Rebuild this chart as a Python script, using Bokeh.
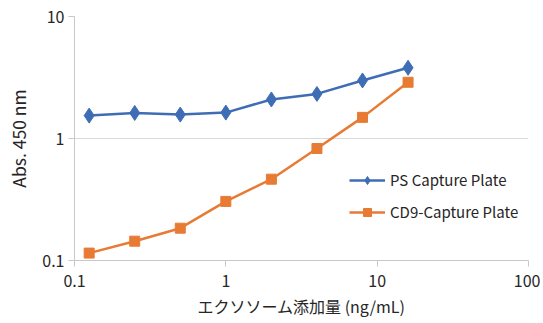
from bokeh.plotting import figure
from bokeh.models import FixedTicker, CustomJSTickFormatter, Legend, LegendItem, Range1d
from bokeh.embed import file_html
from bokeh.resources import INLINE

conc = [0.125, 0.25, 0.5, 1, 2, 4, 8, 16]
ps_capture = [1.54, 1.62, 1.57, 1.63, 2.09, 2.32, 2.99, 3.8]
cd9_capture = [0.115, 0.144, 0.184, 0.305, 0.464, 0.828, 1.49, 2.89]
x_ticks = [0.1, 1, 10, 100]
y_ticks = [0.1, 1, 10]
series_names = ["PS Capture Plate", "CD9-Capture Plate"]

FONT = "Noto Sans CJK JP"
TXT = "#262626"

p = figure(frame_width=454, frame_height=244, x_axis_type="log", y_axis_type="log",
           x_range=Range1d(0.1, 100), y_range=Range1d(0.1, 10),
           output_backend="svg", toolbar_location=None,
           min_border_left=74, min_border_right=12, min_border_top=16, min_border_bottom=60)
p.outline_line_color = None
p.background_fill_color = "white"

fmt = CustomJSTickFormatter(code="return tick.toString();")
for ax, ticks in ((p.xaxis[0], x_ticks), (p.yaxis[0], y_ticks)):
    ax.ticker = FixedTicker(ticks=ticks, minor_ticks=[])
    ax.formatter = fmt
    ax.axis_line_color = "#C8C8C8"
    ax.major_tick_line_color = "#C8C8C8"
    ax.major_tick_out = 6
    ax.major_tick_in = 0
    ax.minor_tick_line_color = None
    ax.major_label_text_font = FONT
    ax.major_label_text_font_size = "16px"
    ax.major_label_text_color = TXT
    ax.axis_label_text_font = FONT
    ax.axis_label_text_color = TXT
    ax.axis_label_text_font_style = "normal"

p.xaxis.axis_label = "エクソソーム添加量 (ng/mL)"
p.yaxis.axis_label = "Abs. 450 nm"
p.xaxis.axis_label_text_font_size = "16px"
p.yaxis.axis_label_text_font_size = "17.5px"
p.xaxis.major_label_standoff = 8
p.yaxis.major_label_standoff = 4
p.xaxis.axis_label_standoff = 4
p.yaxis.axis_label_standoff = 8

p.xgrid.visible = False
p.ygrid.ticker = FixedTicker(ticks=y_ticks, minor_ticks=[])
p.ygrid.grid_line_color = "#D9D9D9"
p.ygrid.grid_line_width = 1

blue = "#3F6DB5"
orange = "#E77B34"

l1 = p.line(conc, ps_capture, line_color=blue, line_width=2.5)
m1 = p.scatter(conc, ps_capture, marker="diamond", size=15, fill_color=blue, line_color=blue)
l2 = p.line(conc, cd9_capture, line_color=orange, line_width=2.5)
m2 = p.scatter(conc, cd9_capture, marker="square", size=10, fill_color=orange, line_color=orange)

legend = Legend(items=[LegendItem(label=series_names[0], renderers=[l1, m1]),
                       LegendItem(label=series_names[1], renderers=[l2, m2])],
                location=(275, 38), padding=0, margin=0, spacing=11,
                glyph_width=36, glyph_height=20, label_standoff=5,
                label_text_font=FONT, label_text_font_size="15px", label_text_color=TXT,
                border_line_color=None, background_fill_alpha=0)
p.add_layout(legend)

open("out.html", "w").write(file_html(p, INLINE))
